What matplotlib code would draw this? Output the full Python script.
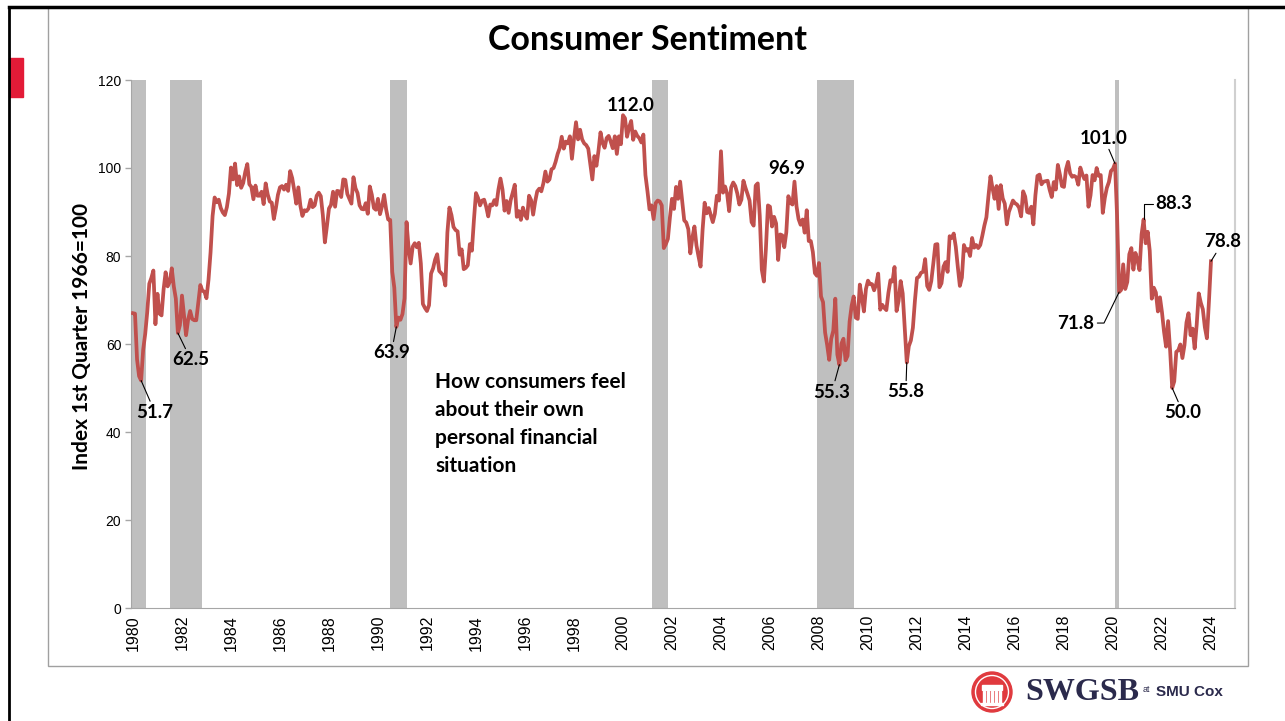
import matplotlib.pyplot as plt
from matplotlib.patches import Rectangle, Circle
import numpy as np

# University of Michigan consumer sentiment, monthly from Jan 1980
start_year = 1980
sentiment = [
    67.0, 66.9, 56.5, 52.7, 51.7, 58.7, 62.3, 67.3, 73.7, 75.0, 76.7, 64.5,   # 1980
    71.4, 66.9, 66.5, 72.4, 76.3, 73.1, 74.1, 77.2, 73.1, 70.3, 62.5, 64.3,   # 1981
    71.0, 66.5, 62.0, 65.5, 67.5, 65.7, 65.4, 65.4, 69.3, 73.4, 72.1, 71.9,   # 1982
    70.4, 74.6, 80.8, 89.1, 93.3, 92.2, 92.8, 90.9, 89.9, 89.3, 91.1, 94.2,   # 1983
    100.1, 97.4, 101.0, 96.1, 98.1, 95.5, 96.6, 99.1, 100.9, 96.3, 95.7, 92.9,  # 1984
    96.0, 93.7, 93.7, 94.6, 91.8, 96.5, 94.0, 92.4, 92.1, 88.4, 90.9, 93.9,   # 1985
    95.6, 95.9, 95.1, 96.2, 94.8, 99.3, 97.7, 94.9, 91.9, 95.6, 91.4, 89.1,   # 1986
    90.4, 90.2, 90.8, 92.8, 91.1, 91.5, 93.7, 94.4, 93.6, 89.3, 83.1, 86.8,   # 1987
    90.8, 91.6, 94.6, 91.2, 94.8, 94.7, 93.4, 97.4, 97.3, 94.1, 93.0, 91.9,   # 1988
    97.9, 95.4, 94.3, 91.5, 90.7, 90.6, 92.0, 89.6, 95.8, 93.9, 90.9, 90.5,   # 1989
    93.0, 89.5, 91.3, 93.9, 90.6, 88.3, 88.2, 76.4, 72.8, 63.9, 66.0, 65.5,   # 1990
    66.8, 70.4, 87.7, 81.8, 78.3, 82.1, 82.9, 82.0, 83.0, 78.3, 69.1, 68.2,   # 1991
    67.5, 68.8, 76.0, 77.2, 79.2, 80.4, 76.6, 76.1, 75.6, 73.3, 85.3, 91.0,   # 1992
    89.3, 86.6, 85.9, 85.6, 80.3, 81.5, 77.0, 77.3, 77.9, 82.7, 81.2, 88.2,   # 1993
    94.3, 93.2, 91.5, 92.6, 92.8, 91.2, 89.0, 91.7, 91.5, 92.7, 91.6, 95.1,   # 1994
    97.6, 95.1, 90.3, 92.5, 89.8, 92.7, 94.4, 96.2, 88.9, 90.2, 88.2, 91.0,   # 1995
    89.3, 88.5, 93.7, 92.7, 89.4, 92.4, 94.7, 95.3, 94.7, 96.5, 99.2, 96.9,   # 1996
    97.4, 99.7, 100.0, 101.4, 103.2, 104.5, 107.1, 104.4, 106.0, 105.6, 107.2, 102.1,  # 1997
    106.6, 110.4, 106.5, 108.7, 106.5, 105.6, 105.2, 104.4, 100.9, 97.4, 102.7, 100.5,  # 1998
    103.9, 108.1, 105.7, 104.6, 106.8, 107.3, 106.0, 104.5, 107.2, 103.2, 107.2, 105.4,  # 1999
    112.0, 111.3, 107.1, 109.2, 110.7, 106.4, 108.3, 107.3, 106.8, 105.8, 107.6, 98.4,  # 2000
    94.7, 90.6, 91.5, 88.4, 92.0, 92.6, 92.4, 91.5, 81.8, 82.7, 83.9, 88.8,   # 2001
    93.0, 90.7, 95.7, 93.0, 96.9, 92.4, 88.1, 87.6, 86.1, 80.6, 84.2, 86.7,   # 2002
    82.4, 79.9, 77.6, 86.0, 92.1, 89.7, 90.9, 89.3, 87.7, 89.6, 93.7, 92.6,   # 2003
    103.8, 94.4, 95.8, 94.2, 90.2, 95.6, 96.7, 95.9, 94.2, 91.7, 92.8, 97.1,  # 2004
    95.5, 94.1, 92.6, 87.7, 86.9, 96.0, 96.5, 89.1, 76.9, 74.2, 81.6, 91.5,   # 2005
    91.2, 86.7, 88.9, 87.4, 79.1, 84.9, 84.7, 82.0, 85.4, 93.6, 92.1, 91.7,   # 2006
    96.9, 91.3, 88.4, 87.1, 88.3, 85.3, 90.4, 83.4, 83.4, 80.9, 76.1, 75.5,   # 2007
    78.4, 70.8, 69.5, 62.6, 59.8, 56.4, 61.2, 63.0, 70.3, 57.6, 55.3, 60.1,   # 2008
    61.2, 56.3, 57.3, 65.1, 68.7, 70.8, 66.0, 65.7, 73.5, 70.6, 67.4, 72.5,   # 2009
    74.4, 73.6, 73.6, 72.2, 73.6, 76.0, 67.8, 68.9, 68.2, 67.7, 71.6, 74.5,   # 2010
    74.2, 77.5, 67.5, 69.8, 74.3, 71.5, 63.7, 55.8, 59.5, 60.8, 63.7, 69.9,   # 2011
    75.0, 75.3, 76.2, 76.4, 79.3, 73.2, 72.3, 74.3, 78.3, 82.6, 82.7, 72.9,   # 2012
    73.8, 77.6, 78.6, 76.4, 84.5, 84.1, 85.1, 82.1, 77.5, 73.2, 75.1, 82.5,   # 2013
    81.2, 81.6, 80.0, 84.1, 81.9, 82.5, 81.8, 82.5, 84.6, 86.9, 88.8, 93.6,   # 2014
    98.1, 95.4, 93.0, 95.9, 90.7, 96.1, 93.1, 91.9, 87.2, 90.0, 91.3, 92.6,   # 2015
    92.0, 91.7, 91.0, 89.0, 94.7, 93.5, 90.0, 89.8, 91.2, 87.2, 93.8, 98.2,   # 2016
    98.5, 96.3, 96.9, 97.0, 97.1, 95.0, 93.4, 96.8, 95.1, 100.7, 98.5, 95.9,  # 2017
    95.7, 99.7, 101.4, 98.8, 98.0, 98.2, 97.9, 96.2, 100.1, 98.6, 97.5, 98.3,  # 2018
    91.2, 93.8, 98.4, 97.2, 100.0, 98.2, 98.4, 89.8, 93.2, 95.5, 96.8, 99.3,  # 2019
    99.8, 101.0, 89.1, 71.8, 72.3, 78.1, 72.5, 74.1, 80.4, 81.8, 76.9, 80.7,  # 2020
    79.0, 76.8, 84.9, 88.3, 82.9, 85.5, 81.2, 70.3, 72.8, 71.7, 67.4, 70.6,   # 2021
    67.2, 62.8, 59.4, 65.2, 58.4, 50.0, 51.5, 58.2, 58.6, 59.9, 56.8, 59.7,   # 2022
    64.9, 67.0, 62.0, 63.5, 59.0, 64.4, 71.5, 69.4, 67.9, 63.8, 61.3, 69.7,   # 2023
    78.8,                                                                     # 2024
]

# NBER recessions (start, end) as fractional years
recessions = [(1979.92, 1980.53), (1981.5, 1982.83), (1990.5, 1991.17),
              (2001.17, 2001.83), (2007.92, 2009.42), (2020.08, 2020.25)]

# labelled points: (year, month, label)
ann_points = [(1980, 5, '51.7'), (1981, 11, '62.5'), (1990, 10, '63.9'),
              (2000, 1, '112.0'), (2007, 1, '96.9'), (2008, 11, '55.3'),
              (2011, 8, '55.8'), (2020, 2, '101.0'), (2021, 4, '88.3'),
              (2020, 4, '71.8'), (2022, 6, '50.0'), (2024, 1, '78.8')]

title = 'Consumer Sentiment'
ylabel = 'Index 1st Quarter 1966=100'
note = 'How consumers feel\nabout their own\npersonal financial\nsituation'
year_ticks = list(range(1980, 2025, 2))

###############################################################################

line_color = '#C0504D'
shade = '#BFBFBF'
axis_gray = '#A6A6A6'
label_font = 'Lato'
tick_font = 'Liberation Sans'

fig = plt.figure(figsize=(12.85, 7.21), dpi=100)
W, H = 1285, 721

# slide decorations
fig.add_artist(plt.Line2D([9 / W, 1], [1 - 7 / H, 1 - 7 / H], color='black', lw=2.5))
fig.add_artist(plt.Line2D([9 / W, 9 / W], [0, 1 - 7 / H], color='black', lw=2))
fig.add_artist(Rectangle((9 / W, 1 - 97 / H), 14 / W, 39 / H, color='#E31B37'))
fig.add_artist(Rectangle((48 / W, 1 - 666 / H), 1200 / W, 659 / H,
                         fill=False, edgecolor='#A0A0A0', lw=1))

ax = fig.add_axes([131 / W, 1 - 608 / H, (1235 - 131) / W, (608 - 80) / H])

x = start_year + np.arange(len(sentiment)) / 12.0
for a, b in recessions:
    ax.axvspan(a, b, ymin=0, ymax=1, color=shade, lw=0, zorder=1)

ax.plot(x, sentiment, color=line_color, lw=2.7, zorder=3, solid_joinstyle='round')

ax.set_xlim(1979.92, 2024.98)
ax.set_ylim(0, 120)
ax.set_yticks(range(0, 121, 20))
ax.set_xticks(year_ticks)
ax.set_xticklabels([str(y) for y in year_ticks], rotation=90,
                   fontname=tick_font, fontsize=11.5)
ax.tick_params(axis='x', length=0, pad=5)
ax.tick_params(axis='y', length=4, width=1, color=axis_gray, labelsize=10, pad=3)
for lbl in ax.get_yticklabels():
    lbl.set_fontname(tick_font)

ax.spines['top'].set_visible(False)
ax.spines['left'].set_color(axis_gray)
ax.spines['bottom'].set_color(axis_gray)
ax.spines['right'].set_color('#D0D0D0')
ax.spines['right'].set_linewidth(1.5)

# annotation offsets in points (text centre relative to data point)
offsets = {'51.7': (10, -23), '62.5': (9.4, -19.4), '63.9': (-3.6, -18.7),
           '112.0': (5.8, 7.2), '96.9': (-5.4, 9.8), '55.3': (-5.4, -19.7),
           '55.8': (-0.7, -21.2), '101.0': (-7.9, 18.4), '88.3': (21.9, 11.2),
           '71.8': (-31, -22.3), '50.0': (7.9, -18), '78.8': (8.6, 13.9)}
no_line = {'112.0', '96.9'}

for yr, mo, lab in ann_points:
    idx = (yr - start_year) * 12 + (mo - 1)
    px, py = x[idx], sentiment[idx]
    arrow = dict(arrowstyle='-', color='black', lw=0.8, shrinkA=0, shrinkB=0)
    if lab == '88.3':
        arrow.update(connectionstyle='angle,angleA=0,angleB=90,rad=0', relpos=(0, 0.5))
    elif lab == '71.8':
        arrow.update(connectionstyle='angle,angleA=0,angleB=64,rad=0', relpos=(1, 0.5))
    ax.annotate(lab, xy=(px, py), xytext=offsets[lab], textcoords='offset points',
                ha='center', va='center', fontsize=13.5, fontweight='bold',
                fontname=label_font, color='black', zorder=4,
                arrowprops=None if lab in no_line else arrow)

ax.text(435 / W, 1 - 372 / H, note, transform=fig.transFigure, ha='left', va='top',
        fontsize=15, fontweight='bold', fontname=label_font, linespacing=1.5)

fig.text(647 / W, 1 - 40 / H, title, ha='center', va='center',
         fontsize=24.5, fontweight='bold', fontname=label_font)
fig.text(82 / W, 1 - 337 / H, ylabel, ha='center', va='center', rotation=90,
         fontsize=15, fontweight='bold', fontname=label_font)

# logo
logo = fig.add_axes([960 / W, 0, 280 / W, 50 / H])
logo.set_xlim(0, 280)
logo.set_ylim(0, 50)
logo.set_aspect('equal')
logo.axis('off')
logo.add_patch(Circle((32, 29), 20, color='#E03A3E'))
logo.add_patch(Circle((32, 29), 16.5, fill=False, edgecolor='white', lw=1))
logo.add_patch(Rectangle((22, 31), 20, 5, color='white'))
for cx in range(23, 42, 4):
    logo.add_patch(Rectangle((cx, 18), 2, 12, color='white'))
logo.add_patch(Rectangle((21, 16), 22, 2, color='white'))
logo.text(65, 29, 'SWGSB', fontname='Liberation Serif', fontweight='bold',
          fontsize=23, color='#2B2A4C', va='center', ha='left')
logo.text(183, 31, 'at', fontsize=6.5, fontname='Liberation Sans', color='#2B2A4C',
          va='center', ha='left')
logo.text(196, 29, 'SMU Cox', fontsize=11, fontweight='bold', fontname='Liberation Sans',
          color='#2B2A4C', va='center', ha='left')

fig.savefig('out.png', dpi=100, facecolor='white')
